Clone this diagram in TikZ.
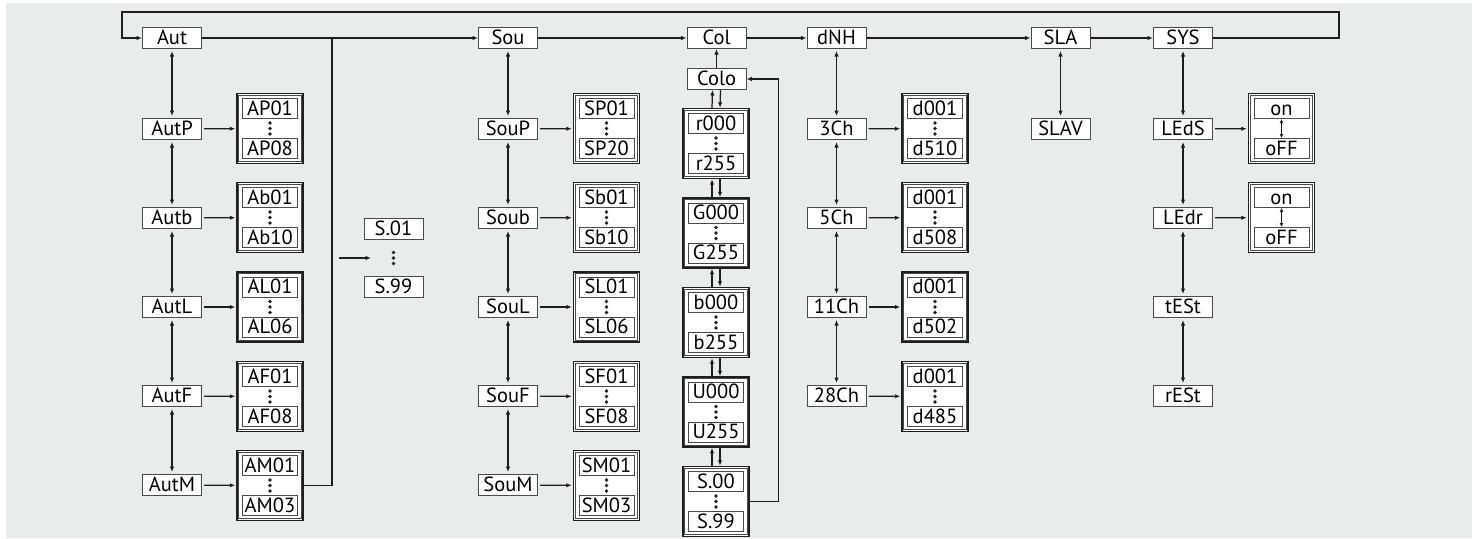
\documentclass[tikz,border=0pt]{standalone}
\usepackage{fontspec}
\setmainfont{PT Sans}
\usetikzlibrary{arrows.meta}
\definecolor{bg}{HTML}{E9ECED}
\definecolor{bx}{HTML}{4A4A4A}
\definecolor{ln}{HTML}{1E1E1E}
\newcommand\rngframe[3]{%
  \node[rframe] (#1) at (#2,#3) {};
  \draw[draw=bx, line width=0.7pt] ([shift={(2.4pt,2.4pt)}]#1.south west) rectangle ([shift={(-2.4pt,-2.4pt)}]#1.north east);
}
\newcommand\rng[5]{%
  \rngframe{#1}{#2}{#3}
  \node[ibox] (#1-t) at (#2,{#3-20}) {#4};
  \node[ibox] (#1-b) at (#2,{#3+20}) {#5};
  \foreach \d in {-5.5,0,5.5} \fill[ln] (#2,{#3+\d}) circle (1.8pt);
}
\newcommand\rngarr[5]{%
  \rngframe{#1}{#2}{#3}
  \node[ibox] (#1-t) at (#2,{#3-20}) {#4};
  \node[ibox] (#1-b) at (#2,{#3+20}) {#5};
  \draw[cn,{Latex[length=4pt,width=4pt]}-{Latex[length=4pt,width=4pt]},line width=1pt] (#1-t) -- (#1-b);
}
\begin{document}
\begin{tikzpicture}[x=1pt,y=-1pt,
  >={Latex[length=5.5pt,width=4.5pt]},
  mbox/.style={draw=bx, line width=1pt, fill=white, minimum width=59pt, minimum height=21pt, inner sep=0pt, text height=13.5pt, text depth=0pt, font=\fontsize{20.5}{20.5}\selectfont},
  ibox/.style={mbox, minimum width=55pt, minimum height=20pt},
  rframe/.style={draw=ln, line width=1.4pt, fill=white, minimum width=66pt, minimum height=70pt, inner sep=0pt},
  cn/.style={draw=ln, line width=1.25pt},
  va/.style={cn, <->, shorten <=2pt, shorten >=2pt},
  ha/.style={cn, ->, shorten <=2pt, shorten >=1pt}]
\useasboundingbox (0,0) rectangle (1474,538);
\fill[white] (0,0) rectangle (1474,538);
\fill[bg] (6,3) rectangle (1472,538);

% ---- top row
\node[mbox] (aut) at (172,38) {Aut};
\node[mbox] (sou) at (508,38) {Sou};
\node[mbox] (col) at (716.5,38) {Col};
\node[mbox] (dnh) at (836.5,38) {dNH};
\node[mbox] (sla) at (1060.5,38) {SLA};
\node[mbox] (sys) at (1183,38) {SYS};
\draw[cn,->] (aut) -- (sou);
\draw[cn,->] (sou) -- (col);
\draw[cn,->] (col) -- (dnh);
\draw[cn,->] (dnh) -- (sla);
\draw[cn,->] (sla) -- (sys);
\draw[cn,->] (sys.east) -- ++(126,0) -- ++(0,-26) -| ([xshift=-20pt]aut.west) -- (aut.west);

% ---- Aut column
\node[mbox] (autp) at (172,129) {AutP};
\node[mbox] (autb) at (172,218) {Autb};
\node[mbox] (autl) at (172,307) {AutL};
\node[mbox] (autf) at (172,396) {AutF};
\node[mbox] (autm) at (172,485) {AutM};
\draw[va] (aut) -- (autp);
\draw[va] (autp) -- (autb);
\draw[va] (autb) -- (autl);
\draw[va] (autl) -- (autf);
\draw[va] (autf) -- (autm);
\rng{ap}{270}{128.5}{AP01}{AP08}
\rng{ab}{270}{217.5}{Ab01}{Ab10}
\rng{al}{270}{307}{AL01}{AL06}
\rng{af}{270}{396.5}{AF01}{AF08}
\rng{am}{270}{485.5}{AM01}{AM03}
\draw[ha] (autp) -- (ap);
\draw[ha] (autb) -- (ab);
\draw[ha] (autl) -- (al);
\draw[ha] (autf) -- (af);
\draw[ha] (autm) -- (am);
\coordinate (j) at (332,38);
\draw[cn] (am.east) -| (j);

% ---- S.01 .. S.99
\node[mbox] (s01) at (393.5,228.5) {S.01};
\node[mbox] (s99) at (393.5,286.5) {S.99};
\foreach \d in {-5.5,0,5.5} \fill[ln] (393.5,{258+\d}) circle (1.8pt);
\coordinate (sin) at (339,258);
\coordinate (sto) at (371,258);
\draw[cn,->] (sin) -- (sto);

% ---- Sou column
\node[mbox] (soup) at (508,129) {SouP};
\node[mbox] (soub) at (508,218) {Soub};
\node[mbox] (soul) at (508,307) {SouL};
\node[mbox] (souf) at (508,396) {SouF};
\node[mbox] (soum) at (508,485) {SouM};
\draw[va] (sou) -- (soup);
\draw[va] (soup) -- (soub);
\draw[va] (soub) -- (soul);
\draw[va] (soul) -- (souf);
\draw[va] (souf) -- (soum);
\rng{sp}{606.5}{128.5}{SP01}{SP20}
\rng{sb}{606.5}{217.5}{Sb01}{Sb10}
\rng{sl}{606.5}{307}{SL01}{SL06}
\rng{sf}{606.5}{396.5}{SF01}{SF08}
\rng{sm}{606.5}{485.5}{SM01}{SM03}
\draw[ha] (soup) -- (sp);
\draw[ha] (soub) -- (sb);
\draw[ha] (soul) -- (sl);
\draw[ha] (souf) -- (sf);
\draw[ha] (soum) -- (sm);

% ---- Col column
\node[mbox] (colo) at (716.5,79) {Colo};
\draw[cn,->] (colo) -- (col);
\rng{cr}{716}{143.5}{r000}{r255}
\rng{cg}{716}{233}{G000}{G255}
\rng{cb}{716}{322.5}{b000}{b255}
\rng{cu}{716}{412}{U000}{U255}
\rng{cs}{716}{501.5}{S.00}{S.99}
\draw[cn,->] ([xshift=-4pt]cr.north) -- ([xshift=-4pt]colo.south);
\draw[cn,->] ([xshift=4pt]colo.south) -- ([xshift=4pt]cr.north);
\foreach \a/\b in {cr/cg,cg/cb,cb/cu,cu/cs}{
  \draw[cn,->] ([xshift=-4pt]\b.north) -- ([xshift=-4pt]\a.south);
  \draw[cn,->] ([xshift=4pt]\a.south) -- ([xshift=4pt]\b.north);
}
\draw[cn,->] (cs.east) -- ++(29,0) |- (colo.east);

% ---- dNH column
\node[mbox] (c3) at (836.5,129) {3Ch};
\node[mbox] (c5) at (836.5,218) {5Ch};
\node[mbox] (c11) at (836.5,307) {11Ch};
\node[mbox] (c28) at (836.5,396) {28Ch};
\draw[va] (dnh) -- (c3);
\draw[va] (c3) -- (c5);
\draw[va] (c5) -- (c11);
\draw[va] (c11) -- (c28);
\rng{d3}{935}{128.5}{d001}{d510}
\rng{d5}{935}{217.5}{d001}{d508}
\rng{d11}{935}{307}{d001}{d502}
\rng{d28}{935}{396.5}{d001}{d485}
\draw[ha] (c3) -- (d3);
\draw[ha] (c5) -- (d5);
\draw[ha] (c11) -- (d11);
\draw[ha] (c28) -- (d28);

% ---- SLA column
\node[mbox] (slav) at (1060.5,129) {SLAV};
\draw[va] (sla) -- (slav);

% ---- SYS column
\node[mbox] (leds) at (1183,129) {LEdS};
\node[mbox] (ledr) at (1183,218) {LEdr};
\node[mbox] (test) at (1183,307) {tESt};
\node[mbox] (rest) at (1183,396) {rESt};
\draw[va] (sys) -- (leds);
\draw[va] (leds) -- (ledr);
\draw[va] (ledr) -- (test);
\draw[va] (test) -- (rest);
\rngarr{o1}{1281.5}{128.5}{on}{oFF}
\rngarr{o2}{1281.5}{217.5}{on}{oFF}
\draw[ha] (leds) -- (o1);
\draw[ha] (ledr) -- (o2);
\end{tikzpicture}
\end{document}
